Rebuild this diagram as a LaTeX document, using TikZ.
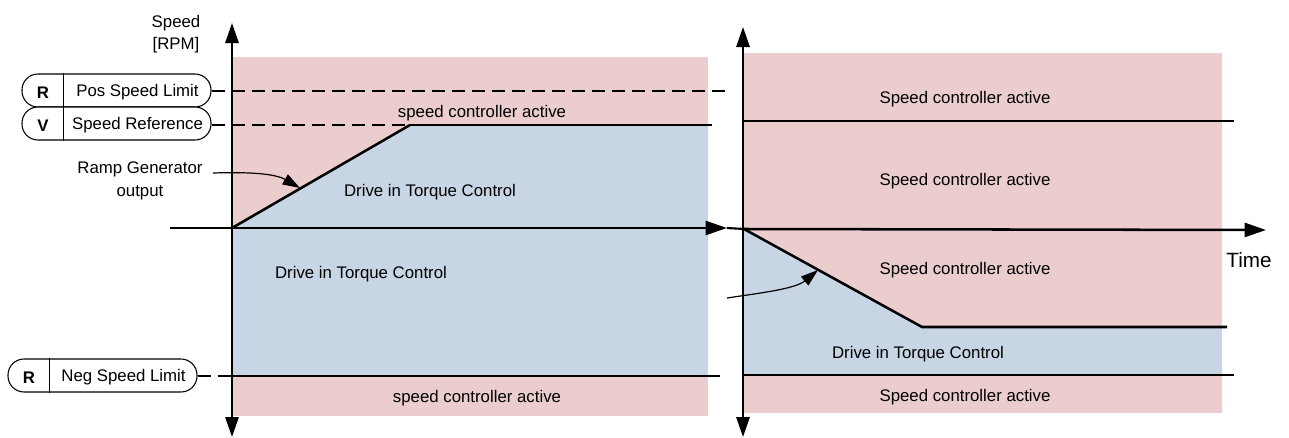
\documentclass[tikz,border=0pt]{standalone}
\usepackage{fontspec}
\setmainfont{Liberation Sans}
\usetikzlibrary{arrows.meta}
\definecolor{pinkbg}{HTML}{EBCDCD}
\definecolor{bluebg}{HTML}{C8D5E4}
\begin{document}
\begin{tikzpicture}[x=0.75pt,y=-0.75pt,
  lbl/.style={font=\fontsize{12.6}{17}\selectfont, inner sep=0pt, yshift=-1.5pt},
  vaxis/.style={line width=1.4pt, {Triangle[length=15pt,width=10pt]}-{Triangle[length=15pt,width=10pt]}},
  haxis/.style={line width=1.9pt, -{Triangle[length=16pt,width=10.5pt]}},
  rampline/.style={line width=1.9pt},
  thinline/.style={line width=0.9pt},
  dashline/.style={line width=1.1pt, dash pattern=on 9.75pt off 5.25pt},
  pointer/.style={line width=0.9pt, -{Triangle[length=13pt,width=8.5pt]}},
  pill/.style={draw, line width=0.8pt, rounded corners=12pt, minimum height=24.75pt, minimum width=141.75pt, inner sep=0pt, fill=white},
]
\useasboundingbox (0,0) rectangle (1289,437);

% backgrounds
\fill[pinkbg] (232,57) rectangle (708,416);
\fill[bluebg] (232,228) -- (410,125) -- (708,125) -- (708,376) -- (232,376) -- cycle;
\fill[pinkbg] (744,53) rectangle (1222,413);
\fill[bluebg] (744,229) -- (922,327) -- (1222,327) -- (1222,375) -- (744,375) -- cycle;

% coordinates
\coordinate (lbot) at (232,437);
\coordinate (ltop) at (232,23);
\coordinate (rbot) at (743,437);
\coordinate (rtop) at (743,27);
\coordinate (hstart) at (170,228);
\coordinate (htip1) at (727,228);
\coordinate (origin2) at (744,229);
\coordinate (htip2) at (1266,230);
\coordinate (origin1) at (232,228);
\coordinate (refend) at (410,125);
\coordinate (refright) at (712,125);
\coordinate (posend) at (727,91);
\coordinate (negaxis) at (232,376);
\coordinate (negright) at (720,376);
\coordinate (rampdown) at (922,327);
\coordinate (rampdownright) at (1227,327);
\coordinate (rline1a) at (744,121);
\coordinate (rline1b) at (1234,121);
\coordinate (rline2a) at (744,375);
\coordinate (rline2b) at (1234,375);
\coordinate (rampstart) at (213,173);
\coordinate (ramptip) at (300,188);
\coordinate (rstart) at (727,298);
\coordinate (rtip) at (818,270);

% boxes
\node[pill] (posbox) at (116.5,90.5) {};
\node[pill] (refbox) at (116.5,123.5) {};
\node[pill] (negbox) at (102.5,375.5) {};
\foreach \b in {posbox,refbox,negbox}
  \draw[line width=0.8pt] ([xshift=31.5pt]\b.north west) -- ([xshift=31.5pt]\b.south west);
\node[lbl,font=\fontsize{12.6}{17}\selectfont\bfseries] (posR) at (43,90.5) {R};
\node[lbl] (posL) at (137.5,90.5) {Pos Speed Limit};
\node[lbl,font=\fontsize{12.6}{17}\selectfont\bfseries] (refV) at (43,123.5) {V};
\node[lbl] (refL) at (137.5,123.5) {Speed Reference};
\node[lbl,font=\fontsize{12.6}{17}\selectfont\bfseries] (negR) at (29,375.5) {R};
\node[lbl] (negL) at (123.5,375.5) {Neg Speed Limit};

% lines left panel
\draw[dashline] (posbox.east |- posend) -- (posend);
\draw[dashline] (refbox.east |- refend) -- (refend);
\draw[rampline] (refend) -- (refright);
\draw[dashline] (negbox.east |- negaxis) -- (negaxis);
\draw[thinline] (negaxis) -- (negright);
\draw[rampline] (origin1) -- (refend);

% lines right panel
\draw[thinline] (rline1a) -- (rline1b);
\draw[thinline] (rline2a) -- (rline2b);
\draw[rampline] (origin2) -- (rampdown) -- (rampdownright);

% axes
\draw[vaxis] (lbot) -- (ltop);
\draw[vaxis] (rbot) -- (rtop);
\draw[haxis] (hstart) -- (htip1);
\draw[line width=1.6pt] (htip1) -- (origin2);
\draw[haxis] (origin2) -- (htip2);

% pointers
\draw[pointer] (rampstart) .. controls (245,172) and (274,173) .. (ramptip);
\draw[pointer] (rstart) .. controls (760,293) and (795,289) .. (rtip);

% texts
\node[lbl, align=center] (speedlbl) at (176,32) {Speed\\{}[RPM]};
\node[lbl, align=center] (ramplbl) at (140,179) {Ramp Generator\\output};
\node[lbl] (t1) at (482,111) {speed controller active};
\node[lbl] (t2) at (430,190) {Drive in Torque Control};
\node[lbl] (t3) at (361,272) {Drive in Torque Control};
\node[lbl] (t4) at (477,396) {speed controller active};
\node[lbl] (t5) at (965,97) {Speed controller active};
\node[lbl] (t6) at (965,179) {Speed controller active};
\node[lbl] (t7) at (965,268) {Speed controller active};
\node[lbl] (t8) at (918,352) {Drive in Torque Control};
\node[lbl] (t9) at (965,395) {Speed controller active};
\node[lbl, font=\fontsize{15.5}{18}\selectfont] (timelbl) at (1249,258) {Time};
\end{tikzpicture}
\end{document}
